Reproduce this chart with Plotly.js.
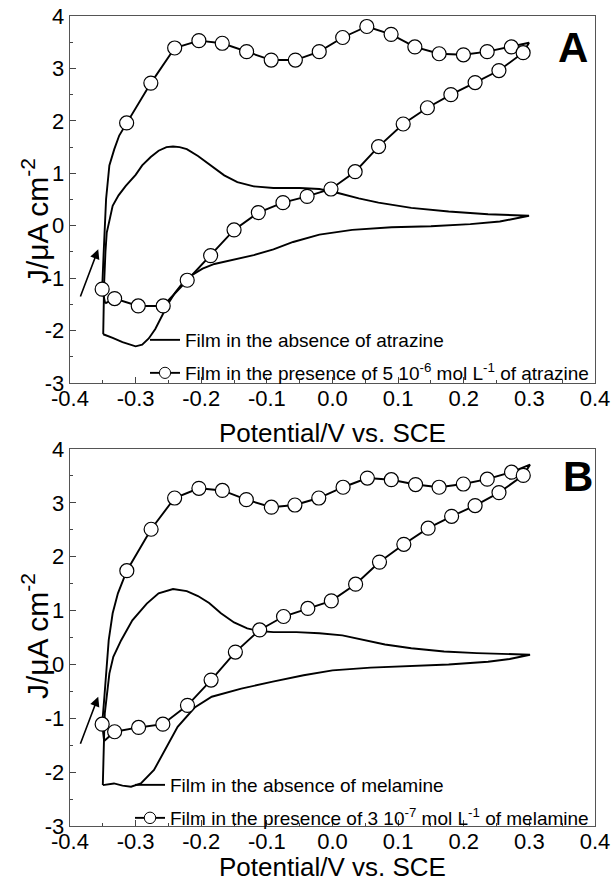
<!DOCTYPE html>
<html>
<head>
<meta charset="utf-8">
<script src="https://cdn.plot.ly/plotly-3.0.1.min.js"></script>
<style>html,body{margin:0;padding:0;background:#fff;}#chart{width:611px;height:880px;}</style>
</head>
<body>
<div id="chart"></div>
<script>
// ---------- Panel A: atrazine ----------
// Film in the absence of atrazine (closed CV loop)
var absA_x = [-0.3494,-0.349,-0.348,-0.346,-0.344,-0.339,-0.335,-0.326,-0.315,-0.300,-0.290,-0.277,-0.265,-0.253,-0.243,-0.233,-0.222,-0.205,-0.185,-0.165,-0.145,-0.120,-0.090,-0.050,-0.020,0.010,0.040,0.070,0.120,0.177,0.237,0.2995,
              0.255,0.210,0.150,0.090,0.030,-0.020,-0.060,-0.090,-0.120,-0.150,-0.180,-0.198,-0.215,-0.230,-0.240,-0.250,-0.260,-0.270,-0.280,-0.290,-0.300,-0.320,-0.335,-0.3494];
var absA_y = [-2.07,-1.60,-1.10,-0.50,-0.13,0.15,0.38,0.58,0.76,0.97,1.15,1.31,1.43,1.50,1.51,1.50,1.46,1.33,1.14,0.96,0.83,0.75,0.72,0.72,0.70,0.62,0.52,0.44,0.34,0.27,0.22,0.19,
              0.08,0.03,-0.01,-0.03,-0.08,-0.17,-0.31,-0.45,-0.56,-0.64,-0.73,-0.82,-0.95,-1.12,-1.28,-1.48,-1.72,-1.97,-2.15,-2.27,-2.30,-2.22,-2.14,-2.07];

// Film in the presence of atrazine
var presA_turn = [-0.3464, -1.48];          // switching point at the negative end
var presA_first = [-0.351, -1.21];          // first sampled point (circle)
var presA_rise_x = [-0.349,-0.3475,-0.345,-0.340,-0.3325,-0.325];
var presA_rise_y = [-0.60,-0.13,0.51,1.15,1.46,1.72];
var presA_up_x = [-0.3137,-0.2768,-0.2405,-0.2036,-0.168,-0.1309,-0.0934,-0.0566,-0.0202,0.0155,0.0523,0.0893,0.1255,0.1625,0.1995,0.2357,0.2726];
var presA_up_y = [1.96,2.72,3.39,3.53,3.48,3.32,3.16,3.16,3.32,3.59,3.80,3.65,3.41,3.28,3.26,3.32,3.41];
var presA_end = [0.2995, 3.49];             // switching point at the positive end
var presA_down_x = [0.2905,0.2536,0.2173,0.1804,0.1446,0.1077,0.0702,0.0345,-0.0023,-0.0387,-0.0755,-0.113,-0.150,-0.1857,-0.2214,-0.258,-0.296,-0.332];
var presA_down_y = [3.30,2.96,2.73,2.50,2.25,1.94,1.51,1.03,0.70,0.56,0.44,0.25,-0.08,-0.57,-1.04,-1.53,-1.53,-1.39];

// ---------- Panel B: melamine ----------
var absB_x = [-0.350,-0.3495,-0.348,-0.347,-0.344,-0.340,-0.334,-0.322,-0.305,-0.283,-0.265,-0.243,-0.222,-0.205,-0.188,-0.170,-0.150,-0.130,-0.112,-0.090,-0.055,-0.020,0.015,0.045,0.080,0.120,0.170,0.220,0.270,0.301,
              0.270,0.237,0.177,0.118,0.058,0.000,-0.044,-0.091,-0.139,-0.184,-0.210,-0.236,-0.256,-0.272,-0.292,-0.307,-0.320,-0.333,-0.350];
var absB_y = [-2.24,-1.80,-1.30,-0.91,-0.54,-0.17,0.14,0.45,0.82,1.13,1.32,1.40,1.36,1.27,1.14,0.95,0.78,0.67,0.62,0.60,0.60,0.58,0.54,0.46,0.37,0.30,0.24,0.21,0.19,0.18,
              0.10,0.05,0.00,-0.03,-0.06,-0.11,-0.20,-0.32,-0.45,-0.60,-0.80,-1.16,-1.59,-1.96,-2.21,-2.27,-2.25,-2.21,-2.24];

var presB_turn = [-0.348, -1.42];
var presB_first = [-0.351, -1.11];
var presB_rise_x = [-0.348,-0.345,-0.341,-0.335,-0.327];
var presB_rise_y = [-0.66,-0.17,0.45,0.95,1.32];
var presB_up_x = [-0.3134,-0.2764,-0.2406,-0.2036,-0.1678,-0.1313,-0.0931,-0.0573,-0.0209,0.0161,0.0531,0.0896,0.1266,0.1624,0.1994,0.2358,0.2728];
var presB_up_y = [1.74,2.51,3.09,3.27,3.23,3.06,2.92,2.96,3.09,3.29,3.46,3.43,3.34,3.29,3.35,3.44,3.57];
var presB_end = [0.301, 3.71];
var presB_down_x = [0.2907,0.2537,0.2173,0.1815,0.1457,0.1087,0.0716,0.0352,-0.0018,-0.0376,-0.0746,-0.111,-0.148,-0.185,-0.221,-0.2585,-0.2955,-0.332];
var presB_down_y = [3.51,3.19,2.95,2.75,2.53,2.23,1.90,1.49,1.18,1.04,0.89,0.64,0.23,-0.29,-0.76,-1.11,-1.17,-1.25];

// Scan-direction arrows: [tail x, tail y, head x, head y]
var arrowA = [-0.385, -1.38, -0.357, -0.45];
var arrowB = [-0.385, -1.50, -0.357, -0.60];

// Tick labels
var xTickVals = [-0.4,-0.3,-0.2,-0.1,0.0,0.1,0.2,0.3,0.4];
var xTickText = ['-0.4','-0.3','-0.2','-0.1','0.0','0.1','0.2','0.3','0.4'];
var yTickVals = [-3,-2,-1,0,1,2,3,4];
var yTickText = ['-3','-2','-1','0','1','2','3','4'];

var nameAbsA = 'Film in the absence of atrazine';
var namePresA = 'Film in the presence of 5 10<sup>-6</sup> mol L<sup>-1</sup> of atrazine';
var nameAbsB = 'Film in the absence of melamine';
var namePresB = 'Film in the presence of 3 10<sup>-7</sup> mol L<sup>-1</sup> of melamine';

// ---------- build ----------
var FONT = 'Liberation Sans, Arial, Helvetica, sans-serif';
var MS = 14;

function buildPresence(turn, first, rx, ry, ux, uy, end, dx, dy) {
  var x = [], y = [], s = [], w = [];
  function add(px, py, marked) { x.push(px); y.push(py); s.push(marked ? MS : 0); w.push(marked ? 1.2 : 0); }
  add(turn[0], turn[1], false);
  add(first[0], first[1], true);
  for (var i = 0; i < rx.length; i++) add(rx[i], ry[i], false);
  for (i = 0; i < ux.length; i++) add(ux[i], uy[i], true);
  add(end[0], end[1], false);
  for (i = 0; i < dx.length; i++) add(dx[i], dy[i], true);
  add(turn[0], turn[1], false);
  return {x: x, y: y, s: s, w: w};
}

var pA = buildPresence(presA_turn, presA_first, presA_rise_x, presA_rise_y, presA_up_x, presA_up_y, presA_end, presA_down_x, presA_down_y);
var pB = buildPresence(presB_turn, presB_first, presB_rise_x, presB_rise_y, presB_up_x, presB_up_y, presB_end, presB_down_x, presB_down_y);

var lineStyle = {color: '#000', width: 1.9};

var traces = [
  {x: absA_x, y: absA_y, mode: 'lines', name: nameAbsA, line: lineStyle, xaxis: 'x', yaxis: 'y', legend: 'legend'},
  {x: pA.x, y: pA.y, mode: 'lines+markers', name: namePresA, line: lineStyle, xaxis: 'x', yaxis: 'y', legend: 'legend2',
   marker: {symbol: 'circle', size: pA.s, color: '#fff', opacity: 1, line: {color: '#000', width: pA.w}}},
  {x: absB_x, y: absB_y, mode: 'lines', name: nameAbsB, line: lineStyle, xaxis: 'x2', yaxis: 'y2', legend: 'legend3'},
  {x: pB.x, y: pB.y, mode: 'lines+markers', name: namePresB, line: lineStyle, xaxis: 'x2', yaxis: 'y2', legend: 'legend4',
   marker: {symbol: 'circle', size: pB.s, color: '#fff', opacity: 1, line: {color: '#000', width: pB.w}}}
];

var W = 611, H = 880;
var xDom = [70 / W, 595 / W];
var yDomA = [1 - 383 / H, 1 - 16 / H];
var yDomB = [1 - 826 / H, 1 - 449 / H];

function xAxis(anchor, dom) {
  return {domain: xDom, anchor: anchor, range: [-0.4, 0.4], tickmode: 'array', tickvals: xTickVals, ticktext: xTickText,
    showline: true, mirror: true, linecolor: '#555', linewidth: 1.3, ticks: 'inside', ticklen: 6, tickwidth: 1.2, tickcolor: '#444',
    minor: {tickmode: 'linear', tick0: -0.4, dtick: 0.05, ticks: 'inside', ticklen: 3, tickwidth: 1, tickcolor: '#444'},
    showgrid: false, zeroline: false, fixedrange: true, ticklabelstandoff: -5,
    tickfont: {family: FONT, size: 22, color: '#000'}};
}
function yAxis(anchor, dom) {
  return {domain: dom, anchor: anchor, range: [-3, 4], tickmode: 'array', tickvals: yTickVals, ticktext: yTickText,
    showline: true, mirror: true, linecolor: '#555', linewidth: 1.3, ticks: 'inside', ticklen: 6, tickwidth: 1.2, tickcolor: '#444',
    minor: {tickmode: 'linear', tick0: 0, dtick: 0.5, ticks: 'inside', ticklen: 3, tickwidth: 1, tickcolor: '#444'},
    showgrid: false, zeroline: false, fixedrange: true,
    tickfont: {family: FONT, size: 22, color: '#000'}};
}

function legendAt(px, py) {
  return {x: px / W, y: 1 - py / H, xanchor: 'left', yanchor: 'middle', bgcolor: 'rgba(0,0,0,0)', borderwidth: 0,
    font: {family: FONT, size: 19, color: '#000'}, itemwidth: 30, itemclick: false, itemdoubleclick: false};
}

function arrowAnn(a, xr, yr) {
  return {x: a[2], y: a[3], ax: a[0], ay: a[1], xref: xr, yref: yr, axref: xr, ayref: yr, text: '',
    showarrow: true, arrowhead: 2, arrowsize: 1.2, arrowwidth: 1.6, arrowcolor: '#000'};
}

var annotations = [
  {text: 'J/μA cm<sup>-2</sup>', textangle: -90, x: 35 / W, y: 1 - 221 / H, xref: 'paper', yref: 'paper', xanchor: 'center', yanchor: 'middle', showarrow: false, font: {family: FONT, size: 30, color: '#000'}},
  {text: 'J/μA cm<sup>-2</sup>', textangle: -90, x: 35 / W, y: 1 - 636 / H, xref: 'paper', yref: 'paper', xanchor: 'center', yanchor: 'middle', showarrow: false, font: {family: FONT, size: 30, color: '#000'}},
  {text: 'Potential/V vs. SCE', x: (xDom[0] + xDom[1]) / 2, y: 1 - 433 / H, xref: 'paper', yref: 'paper', xanchor: 'center', yanchor: 'middle', showarrow: false, font: {family: FONT, size: 26, color: '#000'}},
  {text: 'Potential/V vs. SCE', x: (xDom[0] + xDom[1]) / 2, y: 1 - 867 / H, xref: 'paper', yref: 'paper', xanchor: 'center', yanchor: 'middle', showarrow: false, font: {family: FONT, size: 26, color: '#000'}},
  {text: '<b>A</b>', x: 573 / W, y: 1 - 47 / H, xref: 'paper', yref: 'paper', xanchor: 'center', yanchor: 'middle', showarrow: false, font: {family: FONT, size: 42, color: '#000'}},
  {text: '<b>B</b>', x: 578 / W, y: 1 - 477 / H, xref: 'paper', yref: 'paper', xanchor: 'center', yanchor: 'middle', showarrow: false, font: {family: FONT, size: 42, color: '#000'}},
  arrowAnn(arrowA, 'x', 'y'),
  arrowAnn(arrowB, 'x2', 'y2')
];

var layout = {
  width: W, height: H, autosize: false,
  margin: {l: 0, r: 0, t: 0, b: 0, pad: 0},
  paper_bgcolor: '#fff', plot_bgcolor: '#fff',
  font: {family: FONT, color: '#000'},
  showlegend: true,
  xaxis: xAxis('y', xDom), yaxis: yAxis('x', yDomA),
  xaxis2: xAxis('y2', xDom), yaxis2: yAxis('x2', yDomB),
  legend: legendAt(145, 340),
  legend2: legendAt(145, 373),
  legend3: legendAt(130, 785),
  legend4: legendAt(130, 818),
  annotations: annotations
};

Plotly.newPlot('chart', traces, layout, {displayModeBar: false, staticPlot: true});
</script>
</body>
</html>
